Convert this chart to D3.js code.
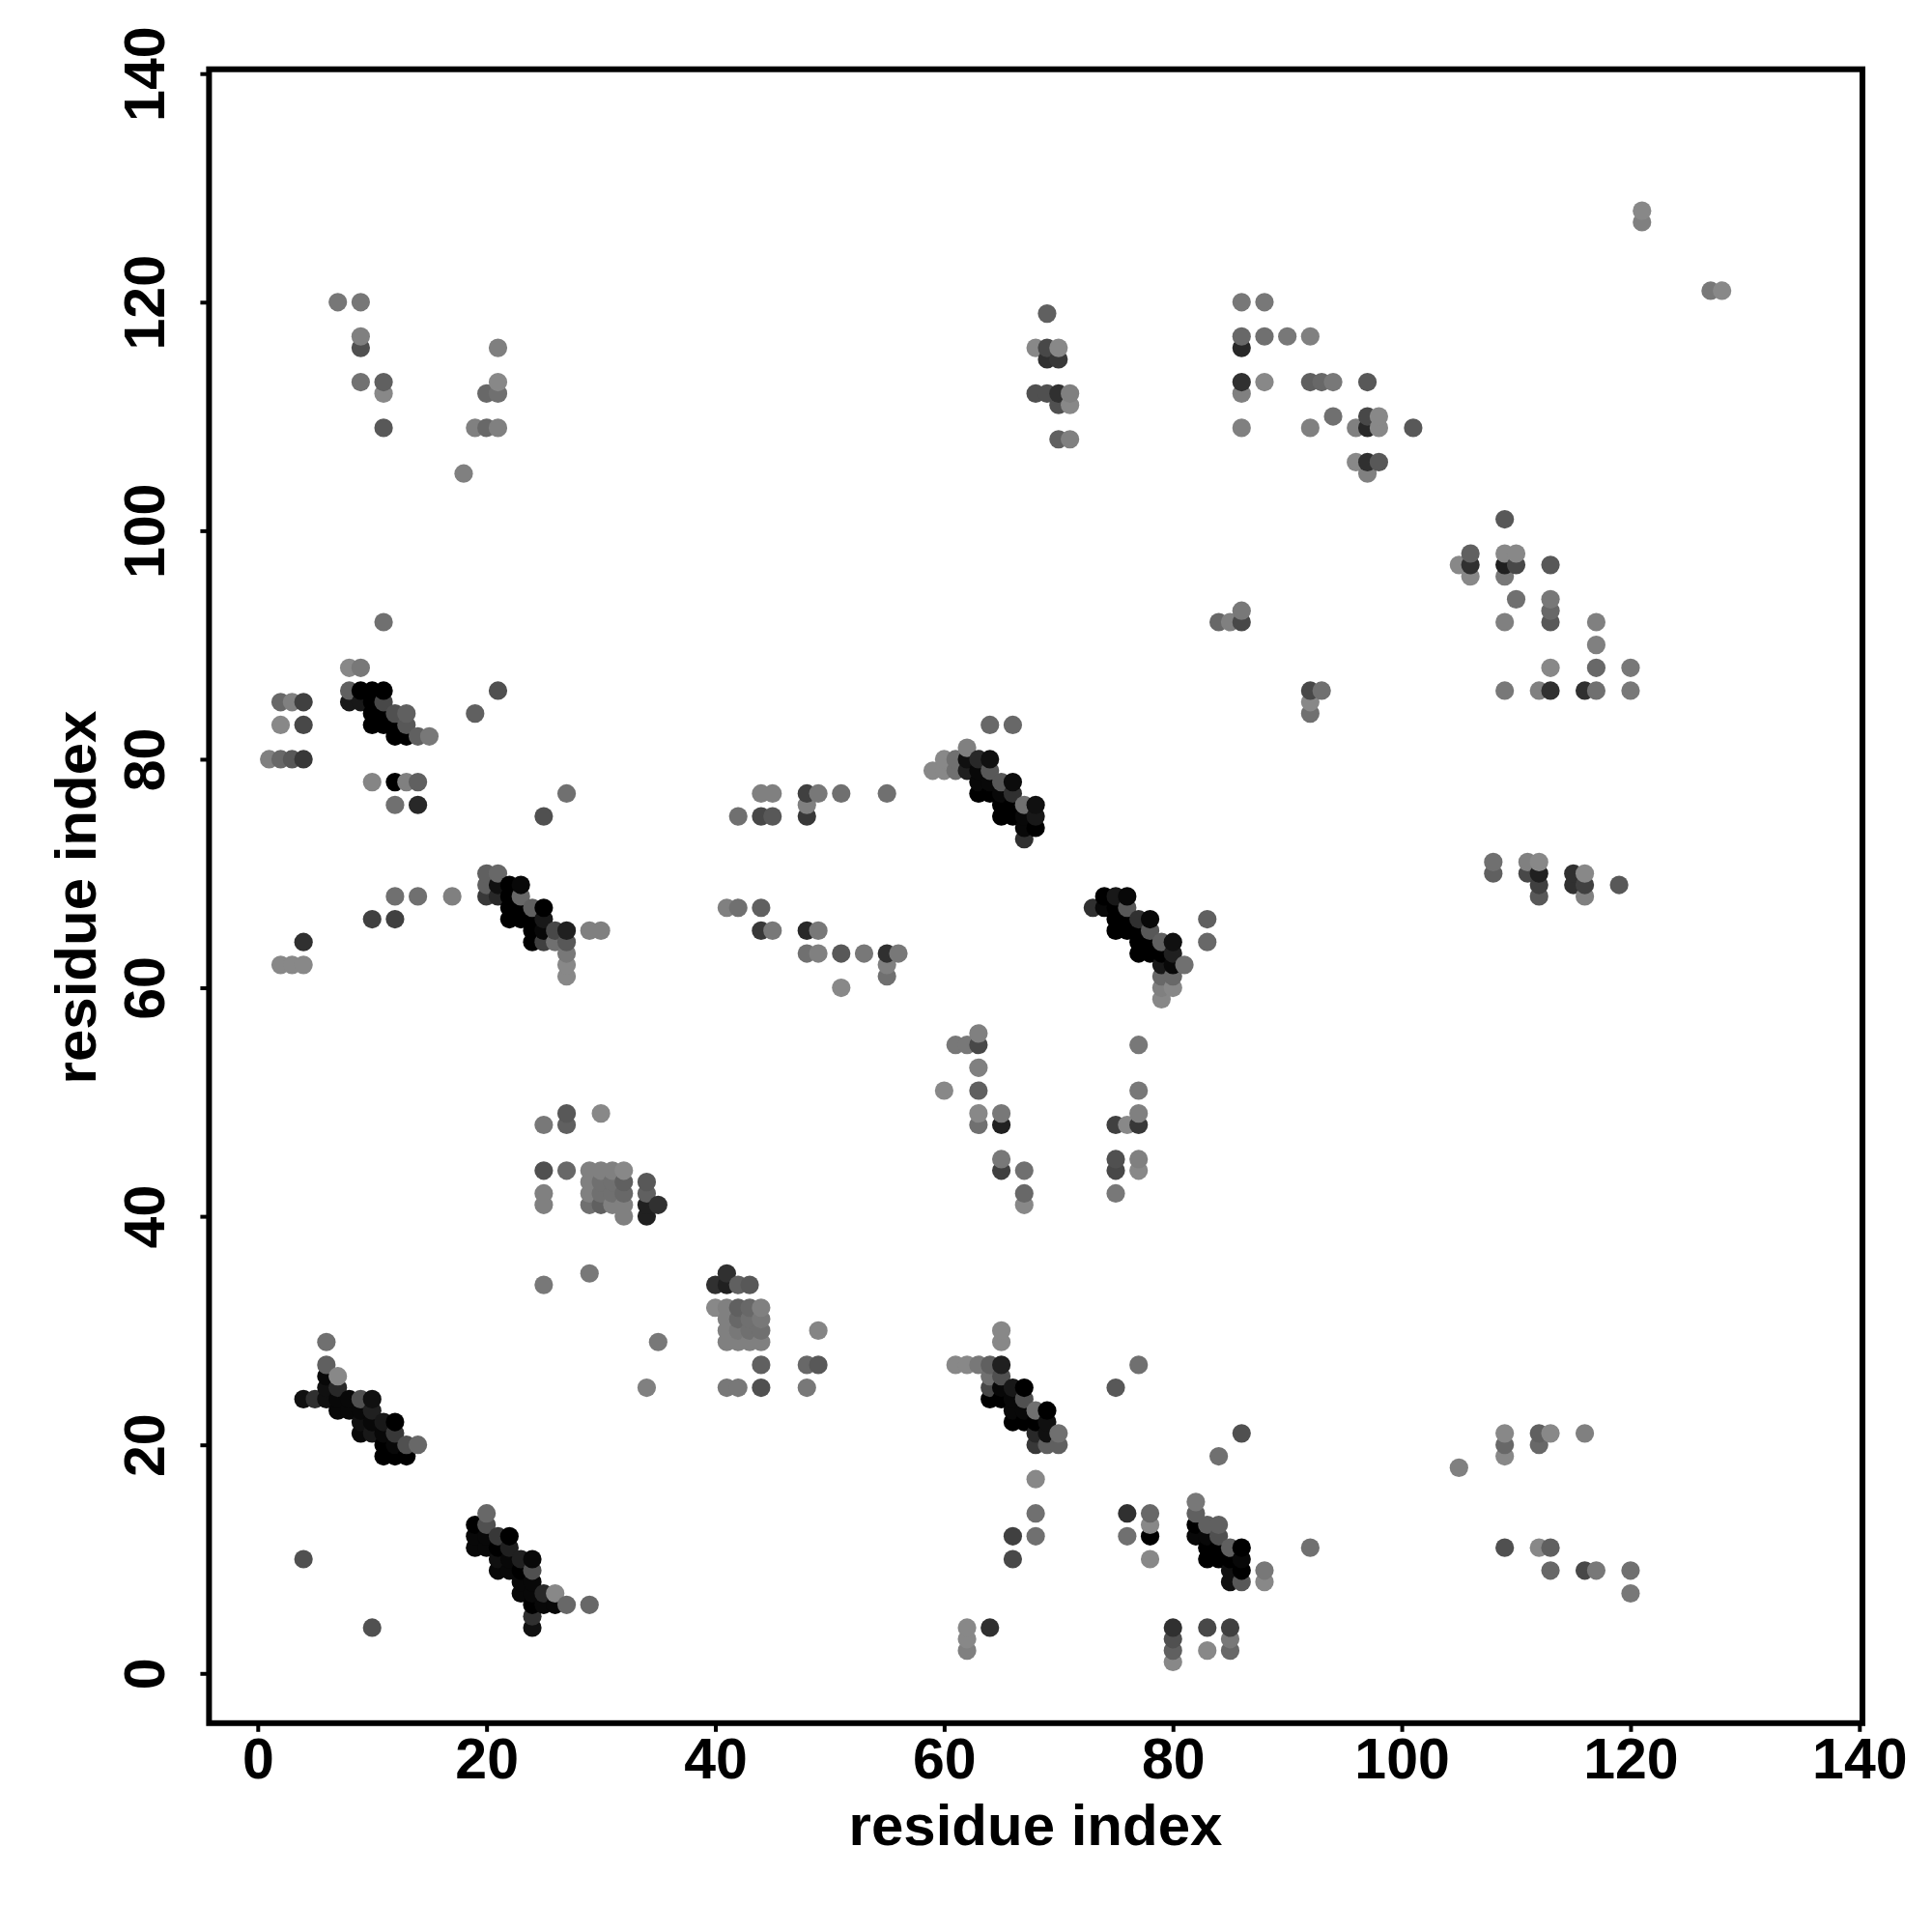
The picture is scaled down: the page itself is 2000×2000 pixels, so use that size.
<!DOCTYPE html>
<html>
  <head>
    <meta charset="utf-8">
    <script src="https://d3js.org/d3.v7.min.js"></script>
    <style>
      html, body { margin: 0; background: #fff; }
      svg { display: block; }
      text { font-family: "Liberation Sans", Arial, sans-serif; font-weight: bold; fill: #000; }
    </style>
  </head>
  <body>
    <div id="chart"></div>
    <script>
      // contact rows: one y value, then the x values and grey levels on that row
      var rowY = [128,127,121,120,119,117,116,115,113,112,111,110,109,108,106,105,101,98,97,96,94,93,92,90,88,86,85,84,83,82,81,80,79,78,77,76,75,74,73,71,70,69,68,67,66,65,64,63,62,61,60,59,56,55,53,51,49,48,45,44,43,42,41,40,35,34,32,31,30,29,27,26,25,24,23,22,21,20,19,18,17,15,14,13,12,11,10,9,8,7,6,5,4,3,2,1];
      var rowX = [
        [121],[121],[127,128],[7,9,86,88],[69],[9,86,88,90,92],
        [9,21,68,69,70,86],[69,70],[9,11,21,86,88,92,93,94,97],[11,20,21,68,69,70,71,86],[70,71],[94,97,98],
        [11,19,20,21,86,92,96,97,98,101],[70,71],[96,97,98],[18,97],[109],[106,109,110],
        [105,106,109,110,113],[106,109],[110,113],[86,113],[11,84,85,86,109,113,117],[117],
        [8,9,113,117,120],[8,9,10,11,21,92,93,109,112,113,116,117,120],[2,3,4,8,9,10,11,92],[10,11,12,13,19,92],[2,4,10,11,12,13,64,66],[12,13,14,15],
        [62],[1,2,3,4,60,61,62,63,64],[59,60,61,62,63,64],[10,12,13,14,63,64,65,66],[27,44,45,48,49,51,55,63,64,65,66],[12,14,48,65,66,67,68],
        [25,42,44,45,48,65,66,67,68],[67,68],[67],[108,111,112],[20,21,108,111,112,115,116],[20,21,22,23,112,115,116,119],
        [12,14,17,20,21,22,23,74,75,76,112,116],[22,23,24,25,41,42,44,73,74,75,76],[10,12,22,23,24,25,75,76,77,78,83],[24,25,26,27,29,30,44,45,48,49,75,76,77,78],[4,24,25,26,27,77,78,79,80,83],[27,48,49,51,53,55,56,77,78,79,80],
        [2,3,4,27,55,79,80,81],[27,55,79,80],[51,79,80],[79],[63],[61,62,63,77],
        [63],[60,63,77],[27,30,63,65,77],[25,27,63,65,75,76,77],[65,75,77],[25,27,29,30,31,32,65,67,75,77],
        [29,30,31,32,34],[25,29,30,31,32,34,67,75],[25,29,30,31,32,34,35,67],[32,34],[29,41],[25,40,41,42,43],
        [40,41,42,43,44],[41,42,43,44],[41,42,43,44,49,65],[6,35,41,42,43,44,65],[6,44,48,49,61,62,63,64,65,77],[6,7,64,65],
        [6,7,34,41,42,44,48,64,65,66,67,75],[4,5,6,7,8,9,10,64,65,66,67],[7,8,9,10,66,67,68,69],[9,10,11,12,66,67,68,69],[9,10,11,12,68,69,70,86,109,112,113,116],[11,12,13,14,68,69,70,109,112],
        [11,12,13,84,109],[105],[68],[82],[20,68,76,78,82],[19,20,78,82,83,84],
        [19,20,21,22,66,68,76,78,82,83,84],[19,20,21,22,83,84,85,86,92,109,112,113],[4,21,22,23,24,66,78,83,84,85,86],[21,22,23,24,85,86,88,113,116,117,120],[23,24,85,86,88],[23,24,25,26,120],
        [24,25,26,27,29],[24],[10,24,62,64,80,83,85],[62,80,85],[62,80,83,85],[80]
      ];
      var rowShade = [
        [0x88],[0x80],[0x78,0x88],[0x77,0x77,0x78,0x78],[0x60],[0x80,0x68,0x70,0x78,0x80],
        [0x50,0x7f,0x88,0x48,0x88,0x28],[0x30,0x38],[0x72,0x60,0x88,0x30,0x88,0x60,0x68,0x78,0x58],[0x88,0x68,0x70,0x50,0x50,0x30,0x80,0x80],[0x50,0x88],[0x70,0x48,0x88],
        [0x58,0x80,0x68,0x80,0x80,0x80,0x80,0x28,0x88,0x58],[0x60,0x80],[0x88,0x30,0x58],[0x80,0x80],[0x58],[0x60,0x88,0x88],
        [0x88,0x30,0x20,0x48,0x58],[0x88,0x78],[0x70,0x78],[0x78,0x68],[0x70,0x68,0x80,0x48,0x80,0x58,0x80],[0x80],
        [0x88,0x78,0x88,0x68,0x78],[0x60,0,0,0,0x50,0x48,0x70,0x78,0x80,0x30,0x30,0x70,0x78],[0x68,0x80,0x40,0x18,0x18,0,0x48,0x88],[0,0,0x50,0x60,0x60,0x70],[0x88,0x48,0,0,0,0x58,0x68,0x68],[0,0,0x60,0x78],
        [0x80],[0x80,0x68,0x58,0x38,0x88,0x70,0x10,0x28,0x10],[0x88,0x88,0x70,0x20,0x08,0x58],[0x85,0,0x80,0x60,0x08,0x08,0x58,0x0c],[0x70,0x80,0x80,0x40,0x78,0x70,0x70,0,0,0x08,0x30],[0x70,0x28,0x80,0,0,0x70,0x10],
        [0x50,0x70,0x48,0x58,0x38,0,0,0x08,0x18],[0x08,0],[0x30],[0x70,0x80,0x88],[0x60,0x68,0x60,0x48,0x20,0x30,0x88],[0x60,0x10,0,0x08,0x40,0x30,0x40,0x58],
        [0x70,0x70,0x80,0x38,0x28,0,0x68,0,0x18,0x08,0x58,0x80],[0,0,0x60,0,0x80,0x70,0x60,0x30,0x08,0,0x58],[0x40,0x40,0,0,0,0x18,0,0,0x30,0x08,0x60],[0,0x08,0x48,0x20,0x80,0x80,0x38,0x78,0x28,0x78,0,0,0,0x58],[0x30,0,0x40,0x70,0x58,0,0,0x60,0x10,0x68],[0x78,0x70,0x80,0x58,0x78,0x30,0x78,0,0,0,0x20],
        [0x88,0x88,0x88,0x88,0x80,0x18,0x08,0x70],[0x88,0x70,0x68,0x68],[0x88,0x80,0x88],[0x88],[0x80],[0x78,0x78,0x48,0x78],
        [0x80],[0x88,0x60,0x78],[0x58,0x88,0x88,0x78,0x80],[0x78,0x60,0x70,0x20,0x40,0x88,0x38],[0x78,0x50,0x80],[0x50,0x68,0x80,0x80,0x80,0x88,0x40,0x70,0x48,0x88],
        [0x80,0x70,0x70,0x60,0x58],[0x80,0x80,0x70,0x70,0x68,0x60,0x68,0x78],[0x80,0x70,0x60,0x80,0x80,0x20,0x30,0x88],[0x80,0x20],[0x78,0x30],[0x78,0x30,0x20,0x60,0x58],
        [0x88,0x80,0x60,0x68,0x80],[0x80,0x68,0x70,0x78],[0x80,0x78,0x70,0x70,0x85,0x88],[0x70,0x78,0x80,0x80,0x80,0x80,0x88],[0x60,0x60,0x68,0x58,0x88,0x88,0x78,0x60,0x20,0x70],[0x08,0x88,0x70,0x50],
        [0x10,0x28,0x80,0x78,0x78,0x50,0x78,0x48,0x08,0x18,0,0x58],[0x10,0x30,0x10,0x08,0x08,0x50,0x10,0,0,0x08,0x50],[0x08,0x08,0x08,0x20,0x08,0x08,0x70,0],[0x10,0x08,0x18,0,0,0,0,0x10],[0x08,0x18,0x08,0x38,0x28,0x10,0x70,0x50,0x88,0x60,0x88,0x80],[0,0x08,0x50,0x68,0x38,0x60,0x60,0x68,0x68],
        [0,0,0,0x70,0x88],[0x80],[0x88],[0x78],[0x68,0x70,0x30,0x68,0x60],[0,0x50,0x88,0,0x60,0x60],
        [0x08,0x08,0x38,0,0x40,0x70,0x70,0,0x08,0x08,0x50],[0x08,0x08,0,0x20,0,0,0x60,0,0x70,0x50,0x88,0x60],[0x50,0x10,0x08,0x20,0x08,0x48,0x88,0,0,0,0x08],[0x08,0x08,0,0x50,0x10,0,0x78,0x68,0x48,0x78,0x70],[0x08,0x08,0x10,0x58,0x88],[0x08,0x08,0x28,0x88,0x78],
        [0,0x08,0x08,0x68,0x68],[0x30],[0x50,0x10,0x88,0x30,0x30,0x48,0x40],[0x88,0x50,0x78],[0x80,0x60,0x88,0x68],[0x88]
      ];
      var tickValues = [0,20,40,60,80,100,120,140];
      var axisTitle = "residue index";

      var points = [];
      rowY.forEach(function(y, r) {
        rowX[r].forEach(function(x, k) {
          points.push({x: x, y: y, shade: rowShade[r][k]});
        });
      });
      // drawn by x then y, later points sit on top
      points.sort(function(a, b) { return d3.ascending(a.x, b.x) || d3.ascending(a.y, b.y); });

      var left = 216.4, right = 1928, top_ = 71.7, bottom = 1783.8;
      var x = d3.scaleLinear().domain([-4.256, 140.27]).range([left, right]);
      var y = d3.scaleLinear().domain([-4.355, 140.38]).range([bottom, top_]);

      var svg = d3.select("#chart").append("svg")
        .attr("width", 2000)
        .attr("height", 2000);

      svg.append("g").selectAll("circle")
        .data(points)
        .enter().append("circle")
        .attr("cx", function(d) { return x(d.x); })
        .attr("cy", function(d) { return y(d.y); })
        .attr("r", 9.6)
        .attr("fill", function(d) { return d3.rgb(d.shade, d.shade, d.shade); });

      svg.append("rect")
        .attr("x", left)
        .attr("y", top_)
        .attr("width", right - left)
        .attr("height", bottom - top_)
        .attr("fill", "none")
        .attr("stroke", "#000")
        .attr("stroke-width", 6);

      var xAxis = svg.append("g")
        .attr("transform", "translate(0," + bottom + ")")
        .call(d3.axisBottom(x).tickValues(tickValues).tickSize(9).tickPadding(6));
      var yAxis = svg.append("g")
        .attr("transform", "translate(" + left + ",0)")
        .call(d3.axisLeft(y).tickValues(tickValues).tickSize(9));

      xAxis.select(".domain").remove();
      yAxis.select(".domain").remove();
      svg.selectAll(".tick line").attr("stroke", "#000").attr("stroke-width", 4);
      svg.selectAll(".tick text").style("font-size", "59px").attr("font-family", null);

      yAxis.selectAll(".tick text")
        .attr("x", null)
        .attr("dy", null)
        .attr("text-anchor", "middle")
        .attr("transform", "translate(-46,0) rotate(-90)");

      svg.append("text")
        .attr("x", 1072)
        .attr("y", 1910)
        .attr("text-anchor", "middle")
        .style("font-size", "60px")
        .text(axisTitle);
      svg.append("text")
        .attr("transform", "translate(99,929) rotate(-90)")
        .attr("text-anchor", "middle")
        .style("font-size", "60px")
        .text(axisTitle);
    </script>
  </body>
</html>
